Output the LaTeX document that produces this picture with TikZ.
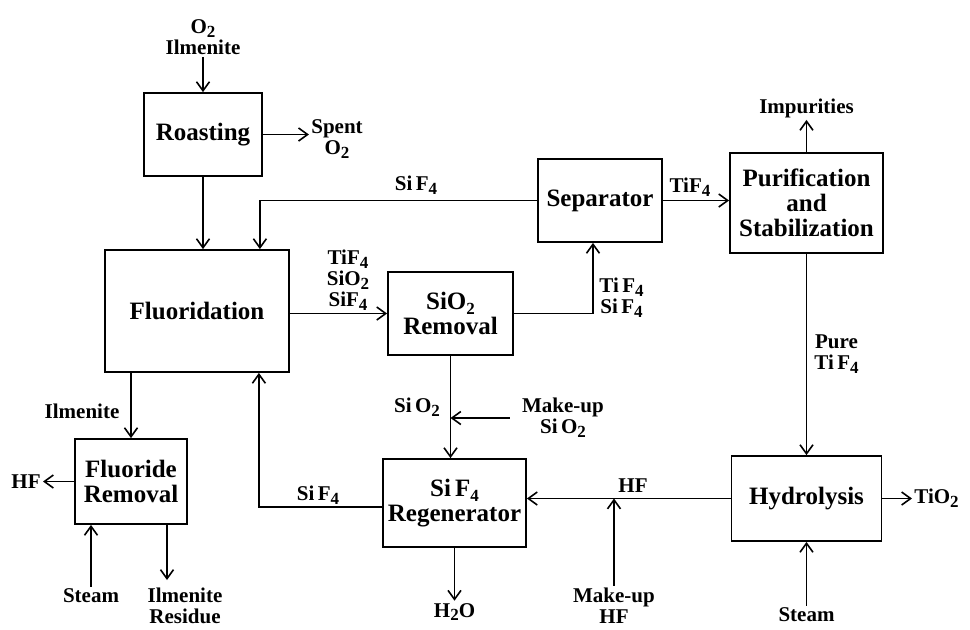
\documentclass[tikz,border=0pt]{standalone}
\usepackage{fontspec}
\setmainfont{Liberation Serif}
\usetikzlibrary{calc,arrows.meta,positioning}
\newcommand{\chs}[1]{\raisebox{-0.4ex}{\fontsize{8.5}{9}\selectfont #1}}
\tikzset{
  fl/.style={-{Straight Barb[length=4.5pt,width=6.5pt]},line width=0.8pt},
  unit/.style={draw,line width=0.9pt,align=center,inner sep=2pt,font=\fontsize{12.5}{12.5}\selectfont\bfseries},
  lb/.style={align=center,inner sep=1pt,font=\fontsize{10.5}{10.5}\selectfont\bfseries}
}
\begin{document}
\begin{tikzpicture}[x=0.5pt,y=-0.5pt]
\useasboundingbox (0,0) rectangle (970,629);
% units
\node[unit,minimum width=59pt,minimum height=41.5pt] (roast) at (203,134.5) {Roasting};
\node[unit,minimum width=92pt,minimum height=61pt] (fluor) at (197,311) {Fluoridation};
\node[unit,minimum width=56pt,minimum height=42.5pt] (frem) at (131,481.5) {Fluoride\\Removal};
\node[unit,minimum width=62.5pt,minimum height=41.5pt] (rem) at (450.5,313.5) {SiO\chs{2}\\Removal};
\node[unit,minimum width=62pt,minimum height=41.5pt] (sep) at (600,200.5) {Separator};
\node[unit,minimum width=76.5pt,minimum height=50pt] (pur) at (806.5,203) {Purification\\and\\Stabilization};
\node[unit,minimum width=71.5pt,minimum height=44pt] (regen) at (454.5,503) {Si\,F\chs{4}\\Regenerator};
\node[unit,minimum width=75pt,minimum height=42.5pt] (hyd) at (806.5,498.5) {Hydrolysis};
% stream labels
\node[lb] (feed) at (203,37) {O\chs{2}\\Ilmenite};
\node[lb] (spent) at (337,139) {Spent\\O\chs{2}};
\node[lb] (rcy) at (416,185) {Si\,F\chs{4}};
\node[lb] (mix) at (348,280) {TiF\chs{4}\\SiO\chs{2}\\SiF\chs{4}};
\node[lb,anchor=west] (gas) at (597,298) {Ti\,F\chs{4}\\Si\,F\chs{4}};
\node[lb] (tif) at (690,187) {TiF\chs{4}};
\node[lb] (imp) at (806.5,108) {Impurities};
\node[lb,anchor=west] (pure) at (812,354) {Pure\\Ti\,F\chs{4}};
\node[lb,anchor=west] (tio) at (912,498.5) {TiO\chs{2}};
\node[lb] (stm) at (806.5,615) {Steam};
\node[lb] (hf) at (633,486) {HF};
\node[lb] (mkhf) at (614,606) {Make-up\\HF};
\node[lb] (h2o) at (454.5,612) {H\chs{2}O};
\node[lb] (sio) at (417,407) {Si\,O\chs{2}};
\node[lb] (mksi) at (563,418) {Make-up\\Si\,O\chs{2}};
\node[lb] (ilm) at (82,411) {Ilmenite};
\node[lb,anchor=east] (hfo) at (43,481.5) {HF};
\node[lb] (stl) at (91,596) {Steam};
\node[lb] (res) at (185,606) {Ilmenite\\Residue};
\node[lb] (rgf) at (318,495) {Si\,F\chs{4}};
\coordinate (resin) at (167,580);
% streams
\draw[fl] (feed.south) -- (roast.north);
\draw[fl] (roast.east) -- (roast.east -| spent.west);
\draw[fl] (roast.south) -- (roast.south |- fluor.north);
\draw[fl] (sep.west) -| ($(fluor.north east)+(-30,0)$);
\draw[fl] (fluor.east |- rem) -- (rem.west);
\draw[fl] (rem.east) -| ($(sep.south)+(-7,0)$);
\draw[fl] (sep.east) -- (sep.east -| pur.west);
\draw[fl] (pur.north) -- (imp.south);
\draw[fl] (pur.south) -- (hyd.north);
\draw[fl] (hyd.east) -- (tio.west);
\draw[fl] (stm.north) -- (hyd.south);
\draw[fl] (hyd.west) -- (hyd.west -| regen.east);
\draw[fl] (mkhf.north) -- (mkhf.north |- hyd.west);
\draw[fl] (regen.south) -- (h2o.north);
\draw[fl] (rem.south) -- (rem.south |- regen.north);
\draw[fl] ($(mksi.west)+(-10,0)$) -- (rem.south |- mksi.west);
\draw[fl] (frem.north |- fluor.south) -- (frem.north);
\draw[fl] (frem.west) -- (hfo.east);
\draw[fl] (stl.north) -- (stl.north |- frem.south);
\draw[fl] (resin |- frem.south) -- (resin);
\draw[fl] ($(regen.west)+(0,4)$) -| ($(fluor.south east)+(-31,0)$);
\end{tikzpicture}
\end{document}
